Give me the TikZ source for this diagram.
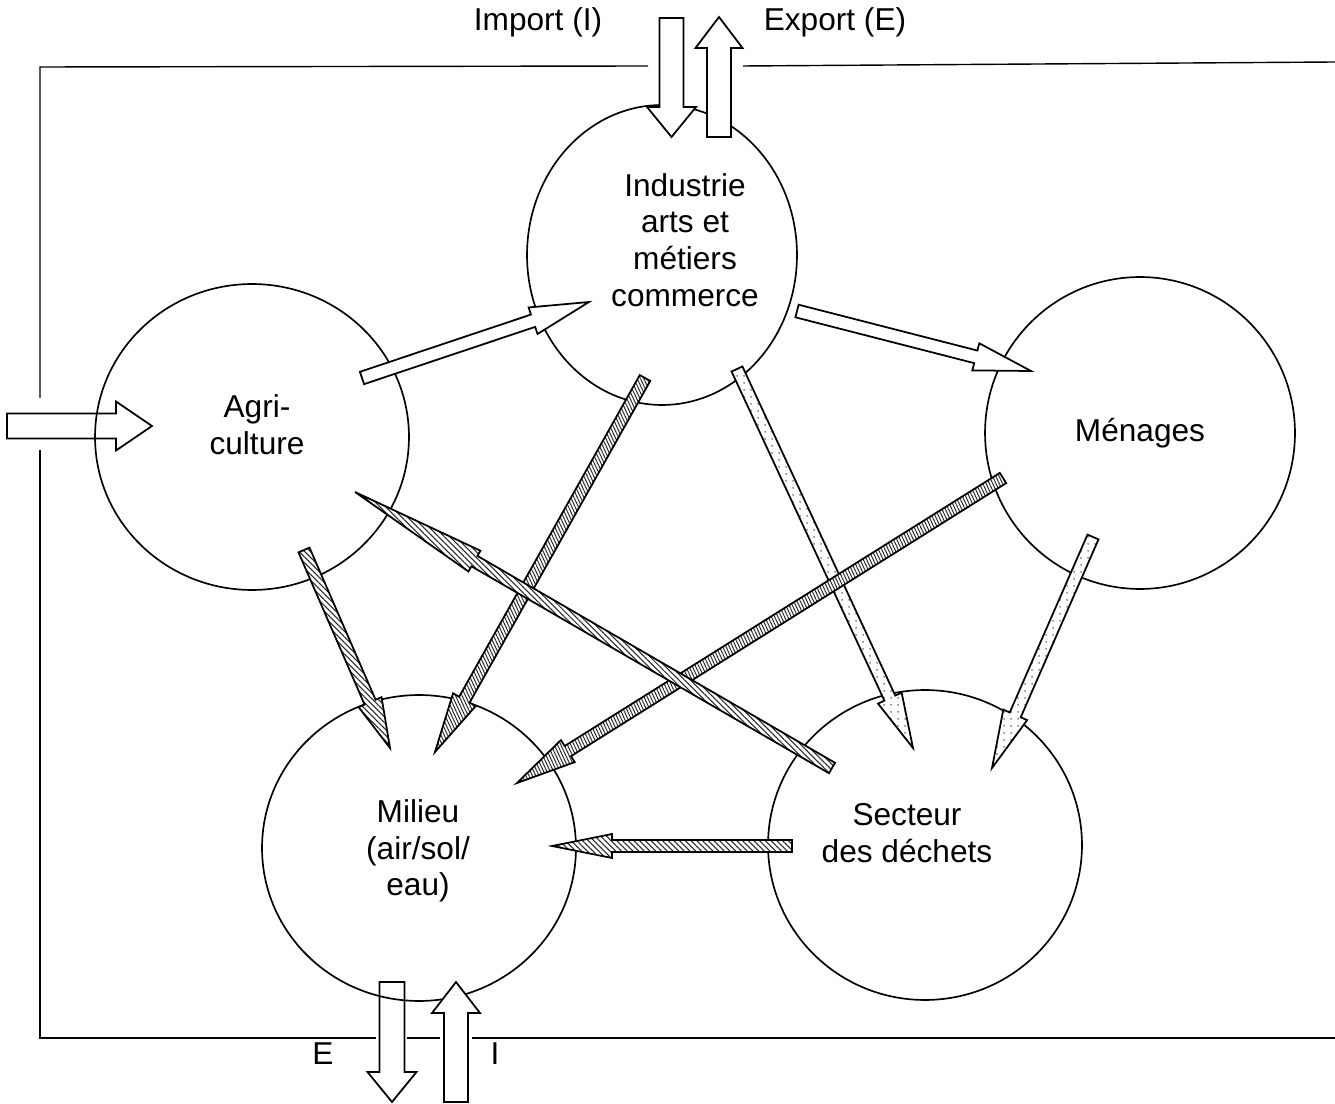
\documentclass[tikz,border=0pt]{standalone}
\usepackage{fontspec}
\setmainfont{Liberation Sans}
\usetikzlibrary{calc,patterns.meta,shapes.geometric}
\newcommand\blockarr[6]{%
  \coordinate (ba) at ($(#3)!#6!(#2)$);
  \draw[#1] ($(#2)!#4!90:(#3)$) -- ($(ba)!#4!90:(#3)$) -- ($(ba)!#5!90:(#3)$) -- (#3)
    -- ($(ba)!#5!-90:(#3)$) -- ($(ba)!#4!-90:(#3)$) -- ($(#2)!#4!-90:(#3)$) -- cycle;}
\begin{document}
\begin{tikzpicture}[x=0.02cm,y=-0.02cm,
  frame/.style={line width=0.8pt},
  ell/.style={ellipse, draw, line width=0.95pt, inner sep=0pt},
  lbl/.style={inner sep=0pt, align=center, font=\fontsize{18}{20.9}\selectfont},
  plain/.style={draw, line width=1pt, fill=white, line join=miter},
  hatch/.style={draw, line width=1pt, line join=miter, preaction={fill=white},
    pattern={Lines[angle=-45,distance=2.3pt,line width=0.6pt]}, pattern color=black!85},
  dense/.style={draw, line width=1pt, line join=miter, preaction={fill=white},
    pattern={Lines[angle=-65,distance=1.7pt,line width=0.55pt]}, pattern color=black!85},
  dotted fill/.style={draw, line width=1pt, line join=miter, preaction={fill=white},
    pattern={Dots[distance=4pt,radius=0.5pt]}, pattern color=black!80}]
\useasboundingbox (0,0) rectangle (1335,1104);
% frame
\draw[frame] (648,66) -- (40,67) -- (40,398);
\draw[frame] (743,66) -- (1335,62);
\draw[frame] (40,450) -- (40,1038) -- (376,1038);
\draw[frame] (407,1038) -- (440,1038);
\draw[frame] (472,1038) -- (1335,1038);
% ellipses
\node[ell, minimum width=5.4cm, minimum height=6.0cm] (ind) at (662,255) {};
\node[ell, minimum width=6.28cm, minimum height=6.12cm] (agr) at (252,437) {};
\node[ell, minimum width=6.2cm, minimum height=6.24cm] (men) at (1140,433) {};
\node[ell, minimum width=6.28cm, minimum height=6.12cm] (mil) at (419,848) {};
\node[ell, minimum width=6.28cm, minimum height=6.2cm] (sec) at (925,845) {};
% texts
\node[lbl] (indT) at (685,240) {Industrie\\arts et\\métiers\\commerce};
\node[lbl] (agrT) at (257,425) {Agri-\\culture};
\node[lbl] (menT) at (1140,433) {Ménages};
\node[lbl] (milT) at (418,851) {Milieu\\(air/sol/\\eau)};
\node[lbl] (secT) at (907,833) {Secteur\\des déchets};
\node[lbl] (impT) at (538,22) {Import (I)};
\node[lbl] (expT) at (835,22) {Export (E)};
\node[lbl] (eT) at (323,1054) {E};
\node[lbl] (iT) at (495,1054) {I};
% outer arrows
\coordinate (imp0) at (671.5,18);  \coordinate (imp1) at (671.5,137);
\coordinate (exp0) at (719,137);   \coordinate (exp1) at (719,17);
\coordinate (lft0) at (7,426);     \coordinate (lft1) at (152,426);
\coordinate (e0) at (392,982);     \coordinate (e1) at (392,1102);
\coordinate (i0) at (456,1102);    \coordinate (i1) at (456,982);
\blockarr{plain}{imp0}{imp1}{0.24cm}{0.49cm}{0.6cm}
\blockarr{plain}{exp0}{exp1}{0.24cm}{0.47cm}{0.62cm}
\blockarr{draw, line width=1pt}{lft0}{lft1}{0.25cm}{0.49cm}{0.72cm}
\blockarr{draw, line width=1pt}{e0}{e1}{0.25cm}{0.49cm}{0.6cm}
\blockarr{plain}{i0}{i1}{0.24cm}{0.48cm}{0.62cm}
% inner arrows
\coordinate (a1) at (362,378);  \coordinate (b1) at (589,302);
\coordinate (a2) at (797,311);  \coordinate (b2) at (1031,371);
\coordinate (a3) at (645,378);  \coordinate (b3) at (435,752);
\coordinate (a4) at (737,369);  \coordinate (b4) at (913,748);
\coordinate (a5) at (1003,478); \coordinate (b5) at (517,783);
\coordinate (a6) at (1093,537); \coordinate (b6) at (992,768);
\coordinate (a7) at (304,550);  \coordinate (b7) at (390,748);
\coordinate (a8) at (832,768);  \coordinate (b8) at (355,492);
\coordinate (a9) at (792,846);  \coordinate (b9) at (552,846);
\blockarr{plain}{a1}{b1}{0.13cm}{0.28cm}{1.18cm}
\blockarr{plain}{a2}{b2}{0.13cm}{0.28cm}{1.14cm}
\blockarr{dotted fill}{a4}{b4}{0.12cm}{0.26cm}{1.1cm}
\blockarr{dotted fill}{a6}{b6}{0.12cm}{0.26cm}{1.16cm}
\blockarr{hatch}{a7}{b7}{0.12cm}{0.25cm}{1.0cm}
\blockarr{hatch}{a9}{b9}{0.12cm}{0.24cm}{1.2cm}
\blockarr{dense}{a5}{b5}{0.12cm}{0.26cm}{1.2cm}
\blockarr{dense}{a3}{b3}{0.12cm}{0.26cm}{1.2cm}
\blockarr{hatch}{a8}{b8}{0.12cm}{0.24cm}{2.76cm}
\end{tikzpicture}
\end{document}
